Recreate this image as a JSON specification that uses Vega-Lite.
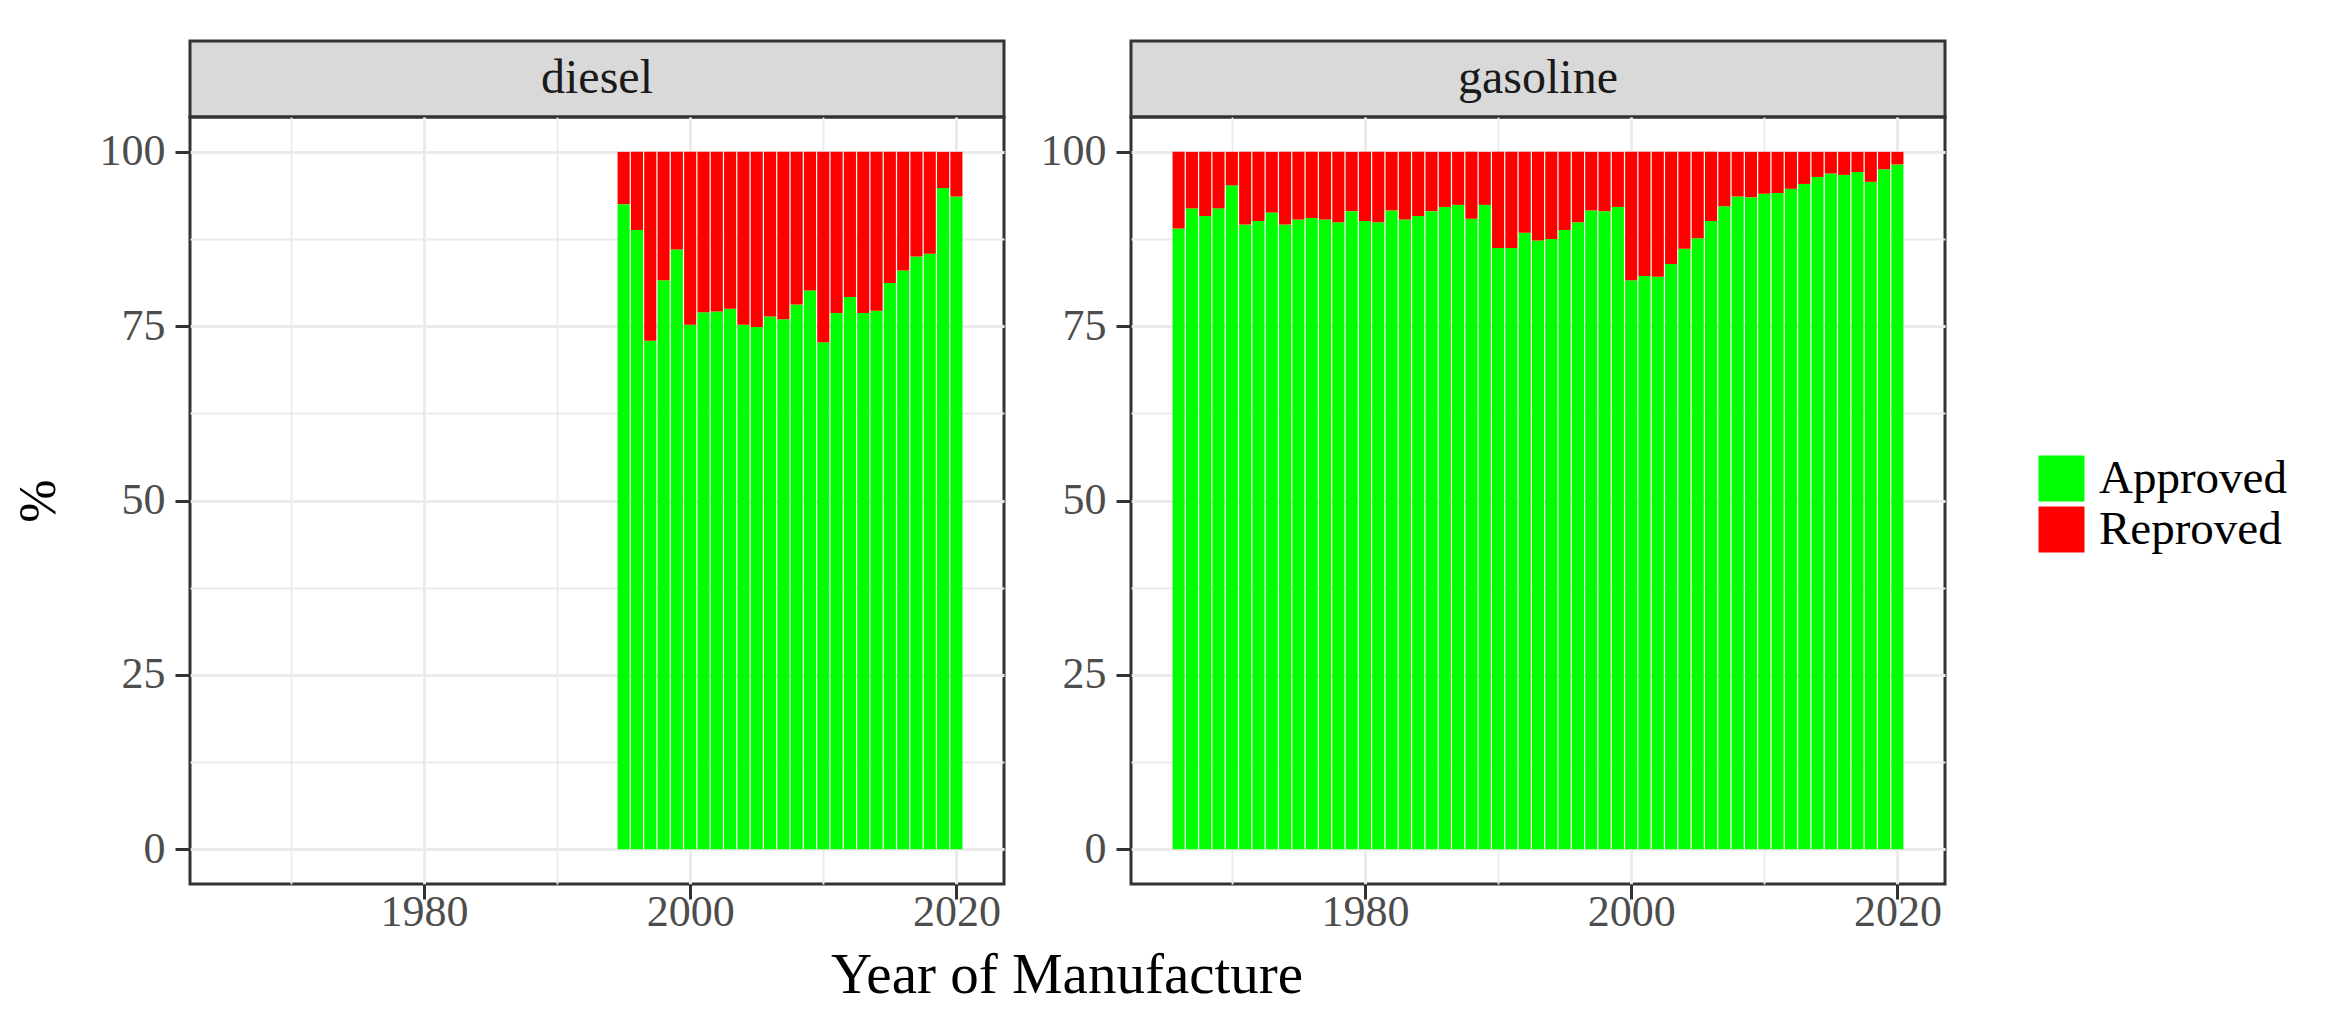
{
  "$schema": "https://vega.github.io/schema/vega-lite/v6.json",
  "background": "white",
  "padding": {"left": 10, "top": 39, "right": 10, "bottom": 5},
  "spacing": 32,
  "title": {
    "text": "Year of Manufacture",
    "orient": "bottom",
    "anchor": "middle",
    "frame": "group",
    "font": "Liberation Serif",
    "fontSize": 57,
    "fontWeight": "normal",
    "color": "black",
    "offset": 12,
    "dx": 877
  },
  "config": {
    "font": "Liberation Serif",
    "view": {"stroke": "#333333", "strokeWidth": 3},
    "axis": {
      "labelFont": "Liberation Serif",
      "labelFontSize": 44,
      "labelColor": "#4d4d4d",
      "labelOverlap": false,
      "labelFlush": false,
      "titleFont": "Liberation Serif",
      "titleFontSize": 52,
      "titleFontWeight": "normal",
      "titleColor": "black",
      "tickColor": "#333333",
      "tickWidth": 3,
      "tickSize": 15,
      "domain": false,
      "gridColor": "#ebebeb"
    }
  },
  "datasets": {
    "inspection": [
      {"fuel": "diesel", "year": 1995, "Approved": 92.5, "Reproved": 7.5},
      {"fuel": "diesel", "year": 1996, "Approved": 88.8, "Reproved": 11.2},
      {"fuel": "diesel", "year": 1997, "Approved": 72.9, "Reproved": 27.1},
      {"fuel": "diesel", "year": 1998, "Approved": 81.6, "Reproved": 18.4},
      {"fuel": "diesel", "year": 1999, "Approved": 86.0, "Reproved": 14.0},
      {"fuel": "diesel", "year": 2000, "Approved": 75.2, "Reproved": 24.8},
      {"fuel": "diesel", "year": 2001, "Approved": 77.0, "Reproved": 23.0},
      {"fuel": "diesel", "year": 2002, "Approved": 77.1, "Reproved": 22.9},
      {"fuel": "diesel", "year": 2003, "Approved": 77.5, "Reproved": 22.5},
      {"fuel": "diesel", "year": 2004, "Approved": 75.2, "Reproved": 24.8},
      {"fuel": "diesel", "year": 2005, "Approved": 74.9, "Reproved": 25.1},
      {"fuel": "diesel", "year": 2006, "Approved": 76.4, "Reproved": 23.6},
      {"fuel": "diesel", "year": 2007, "Approved": 76.0, "Reproved": 24.0},
      {"fuel": "diesel", "year": 2008, "Approved": 78.1, "Reproved": 21.9},
      {"fuel": "diesel", "year": 2009, "Approved": 80.1, "Reproved": 19.9},
      {"fuel": "diesel", "year": 2010, "Approved": 72.7, "Reproved": 27.3},
      {"fuel": "diesel", "year": 2011, "Approved": 76.9, "Reproved": 23.1},
      {"fuel": "diesel", "year": 2012, "Approved": 79.2, "Reproved": 20.8},
      {"fuel": "diesel", "year": 2013, "Approved": 76.9, "Reproved": 23.1},
      {"fuel": "diesel", "year": 2014, "Approved": 77.2, "Reproved": 22.8},
      {"fuel": "diesel", "year": 2015, "Approved": 81.2, "Reproved": 18.8},
      {"fuel": "diesel", "year": 2016, "Approved": 83.0, "Reproved": 17.0},
      {"fuel": "diesel", "year": 2017, "Approved": 85.0, "Reproved": 15.0},
      {"fuel": "diesel", "year": 2018, "Approved": 85.4, "Reproved": 14.6},
      {"fuel": "diesel", "year": 2019, "Approved": 94.8, "Reproved": 5.2},
      {"fuel": "diesel", "year": 2020, "Approved": 93.6, "Reproved": 6.4},
      {"fuel": "gasoline", "year": 1966, "Approved": 89.0, "Reproved": 11.0},
      {"fuel": "gasoline", "year": 1967, "Approved": 91.9, "Reproved": 8.1},
      {"fuel": "gasoline", "year": 1968, "Approved": 90.8, "Reproved": 9.2},
      {"fuel": "gasoline", "year": 1969, "Approved": 91.9, "Reproved": 8.1},
      {"fuel": "gasoline", "year": 1970, "Approved": 95.2, "Reproved": 4.8},
      {"fuel": "gasoline", "year": 1971, "Approved": 89.6, "Reproved": 10.4},
      {"fuel": "gasoline", "year": 1972, "Approved": 90.1, "Reproved": 9.9},
      {"fuel": "gasoline", "year": 1973, "Approved": 91.3, "Reproved": 8.7},
      {"fuel": "gasoline", "year": 1974, "Approved": 89.6, "Reproved": 10.4},
      {"fuel": "gasoline", "year": 1975, "Approved": 90.3, "Reproved": 9.7},
      {"fuel": "gasoline", "year": 1976, "Approved": 90.5, "Reproved": 9.5},
      {"fuel": "gasoline", "year": 1977, "Approved": 90.3, "Reproved": 9.7},
      {"fuel": "gasoline", "year": 1978, "Approved": 89.9, "Reproved": 10.1},
      {"fuel": "gasoline", "year": 1979, "Approved": 91.5, "Reproved": 8.5},
      {"fuel": "gasoline", "year": 1980, "Approved": 90.1, "Reproved": 9.9},
      {"fuel": "gasoline", "year": 1981, "Approved": 89.9, "Reproved": 10.1},
      {"fuel": "gasoline", "year": 1982, "Approved": 91.6, "Reproved": 8.4},
      {"fuel": "gasoline", "year": 1983, "Approved": 90.3, "Reproved": 9.7},
      {"fuel": "gasoline", "year": 1984, "Approved": 90.8, "Reproved": 9.2},
      {"fuel": "gasoline", "year": 1985, "Approved": 91.5, "Reproved": 8.5},
      {"fuel": "gasoline", "year": 1986, "Approved": 92.1, "Reproved": 7.9},
      {"fuel": "gasoline", "year": 1987, "Approved": 92.4, "Reproved": 7.6},
      {"fuel": "gasoline", "year": 1988, "Approved": 90.4, "Reproved": 9.6},
      {"fuel": "gasoline", "year": 1989, "Approved": 92.4, "Reproved": 7.6},
      {"fuel": "gasoline", "year": 1990, "Approved": 86.2, "Reproved": 13.8},
      {"fuel": "gasoline", "year": 1991, "Approved": 86.2, "Reproved": 13.8},
      {"fuel": "gasoline", "year": 1992, "Approved": 88.4, "Reproved": 11.6},
      {"fuel": "gasoline", "year": 1993, "Approved": 87.3, "Reproved": 12.7},
      {"fuel": "gasoline", "year": 1994, "Approved": 87.5, "Reproved": 12.5},
      {"fuel": "gasoline", "year": 1995, "Approved": 88.8, "Reproved": 11.2},
      {"fuel": "gasoline", "year": 1996, "Approved": 89.9, "Reproved": 10.1},
      {"fuel": "gasoline", "year": 1997, "Approved": 91.6, "Reproved": 8.4},
      {"fuel": "gasoline", "year": 1998, "Approved": 91.5, "Reproved": 8.5},
      {"fuel": "gasoline", "year": 1999, "Approved": 92.1, "Reproved": 7.9},
      {"fuel": "gasoline", "year": 2000, "Approved": 81.6, "Reproved": 18.4},
      {"fuel": "gasoline", "year": 2001, "Approved": 82.2, "Reproved": 17.8},
      {"fuel": "gasoline", "year": 2002, "Approved": 82.1, "Reproved": 17.9},
      {"fuel": "gasoline", "year": 2003, "Approved": 83.9, "Reproved": 16.1},
      {"fuel": "gasoline", "year": 2004, "Approved": 86.1, "Reproved": 13.9},
      {"fuel": "gasoline", "year": 2005, "Approved": 87.6, "Reproved": 12.4},
      {"fuel": "gasoline", "year": 2006, "Approved": 90.1, "Reproved": 9.9},
      {"fuel": "gasoline", "year": 2007, "Approved": 92.2, "Reproved": 7.8},
      {"fuel": "gasoline", "year": 2008, "Approved": 93.6, "Reproved": 6.4},
      {"fuel": "gasoline", "year": 2009, "Approved": 93.5, "Reproved": 6.5},
      {"fuel": "gasoline", "year": 2010, "Approved": 94.0, "Reproved": 6.0},
      {"fuel": "gasoline", "year": 2011, "Approved": 94.1, "Reproved": 5.9},
      {"fuel": "gasoline", "year": 2012, "Approved": 94.7, "Reproved": 5.3},
      {"fuel": "gasoline", "year": 2013, "Approved": 95.4, "Reproved": 4.6},
      {"fuel": "gasoline", "year": 2014, "Approved": 96.4, "Reproved": 3.6},
      {"fuel": "gasoline", "year": 2015, "Approved": 96.9, "Reproved": 3.1},
      {"fuel": "gasoline", "year": 2016, "Approved": 96.7, "Reproved": 3.3},
      {"fuel": "gasoline", "year": 2017, "Approved": 97.1, "Reproved": 2.9},
      {"fuel": "gasoline", "year": 2018, "Approved": 95.7, "Reproved": 4.3},
      {"fuel": "gasoline", "year": 2019, "Approved": 97.5, "Reproved": 2.5},
      {"fuel": "gasoline", "year": 2020, "Approved": 98.2, "Reproved": 1.8}
    ]
  },
  "hconcat": [
    {
      "bounds": "flush",
      "spacing": 0,
      "vconcat": [
        {
          "width": 814,
          "height": 76,
          "data": {"values": [{"fuel": "diesel"}]},
          "view": {"fill": "#d9d9d9", "stroke": "#333333", "strokeWidth": 3},
          "mark": {"type": "text", "font": "Liberation Serif", "fontSize": 48, "color": "#1a1a1a"},
          "encoding": {"text": {"field": "fuel", "type": "nominal"}}
        },
        {
          "width": 814,
          "height": 767,
          "data": {"name": "inspection"},
          "transform": [
            {"filter": "datum.fuel == 'diesel'"},
            {"fold": ["Approved", "Reproved"], "as": ["status", "pct"]}
          ],
          "mark": {"type": "bar", "width": 12.1},
          "encoding": {
            "x": {
              "field": "year",
              "type": "quantitative",
              "scale": {"domain": [1962.8, 2023.2], "nice": false, "zero": false},
              "axis": {
                "values": [1970, 1980, 1990, 2000, 2010, 2020],
                "format": "d",
                "labelExpr": "datum.value % 20 == 0 ? datum.label : ''",
                "labelPadding": -9,
                "tickOpacity": {"condition": {"test": "datum.value % 20 != 0", "value": 0}, "value": 1},
                "gridWidth": {"condition": {"test": "datum.value % 20 != 0", "value": 1.8}, "value": 3},
                "title": null
              }
            },
            "y": {
              "field": "pct",
              "type": "quantitative",
              "stack": "zero",
              "scale": {"domain": [-5, 105], "nice": false},
              "axis": {
                "values": [0, 12.5, 25, 37.5, 50, 62.5, 75, 87.5, 100],
                "labelExpr": "datum.value % 25 == 0 ? datum.label : ''",
                "labelPadding": 10,
                "tickOpacity": {"condition": {"test": "datum.value % 25 != 0", "value": 0}, "value": 1},
                "gridWidth": {"condition": {"test": "datum.value % 25 != 0", "value": 1.8}, "value": 3},
                "title": "%",
                "titlePadding": 34
              }
            },
            "color": {
              "field": "status",
              "type": "nominal",
              "scale": {"domain": ["Approved", "Reproved"], "range": ["#00ff00", "#ff0000"]},
              "legend": {
                "title": null,
                "orient": "none",
                "legendX": 1848,
                "legendY": 414,
                "padding": 0,
                "symbolType": "square",
                "symbolSize": 2116,
                "symbolStrokeWidth": 0,
                "symbolOpacity": 1,
                "labelFont": "Liberation Serif",
                "labelFontSize": 47,
                "labelColor": "black",
                "labelLimit": 0,
                "labelOffset": 14,
                "rowPadding": 3
              }
            },
            "order": {"field": "status", "sort": "ascending"}
          }
        }
      ]
    },
    {
      "bounds": "flush",
      "spacing": 0,
      "vconcat": [
        {
          "width": 814,
          "height": 76,
          "data": {"values": [{"fuel": "gasoline"}]},
          "view": {"fill": "#d9d9d9", "stroke": "#333333", "strokeWidth": 3},
          "mark": {"type": "text", "font": "Liberation Serif", "fontSize": 48, "color": "#1a1a1a"},
          "encoding": {"text": {"field": "fuel", "type": "nominal"}}
        },
        {
          "width": 814,
          "height": 767,
          "data": {"name": "inspection"},
          "transform": [
            {"filter": "datum.fuel == 'gasoline'"},
            {"fold": ["Approved", "Reproved"], "as": ["status", "pct"]}
          ],
          "mark": {"type": "bar", "width": 12.1},
          "encoding": {
            "x": {
              "field": "year",
              "type": "quantitative",
              "scale": {"domain": [1962.8, 2023.2], "nice": false, "zero": false},
              "axis": {
                "values": [1970, 1980, 1990, 2000, 2010, 2020],
                "format": "d",
                "labelExpr": "datum.value % 20 == 0 ? datum.label : ''",
                "labelPadding": -9,
                "tickOpacity": {"condition": {"test": "datum.value % 20 != 0", "value": 0}, "value": 1},
                "gridWidth": {"condition": {"test": "datum.value % 20 != 0", "value": 1.8}, "value": 3},
                "title": null
              }
            },
            "y": {
              "field": "pct",
              "type": "quantitative",
              "stack": "zero",
              "scale": {"domain": [-5, 105], "nice": false},
              "axis": {
                "values": [0, 12.5, 25, 37.5, 50, 62.5, 75, 87.5, 100],
                "labelExpr": "datum.value % 25 == 0 ? datum.label : ''",
                "labelPadding": 10,
                "tickOpacity": {"condition": {"test": "datum.value % 25 != 0", "value": 0}, "value": 1},
                "gridWidth": {"condition": {"test": "datum.value % 25 != 0", "value": 1.8}, "value": 3},
                "title": null
              }
            },
            "color": {
              "field": "status",
              "type": "nominal",
              "scale": {"domain": ["Approved", "Reproved"], "range": ["#00ff00", "#ff0000"]}
            },
            "order": {"field": "status", "sort": "ascending"}
          }
        }
      ]
    }
  ]
}
